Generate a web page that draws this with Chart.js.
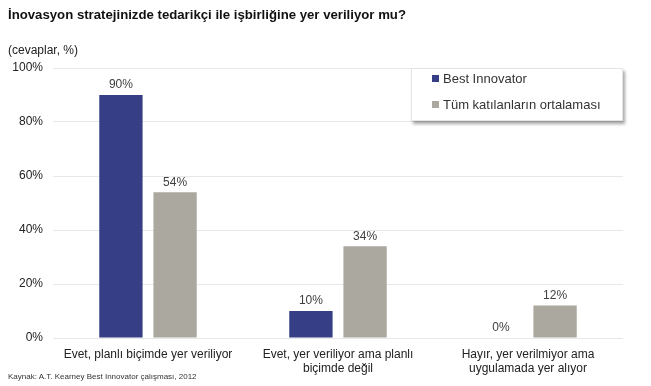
<!DOCTYPE html>
<html>
<head>
<meta charset="utf-8">
<script src="https://cdn.jsdelivr.net/npm/chart.js@4/dist/chart.umd.min.js"></script>
<style>
  body { margin: 0; background: #fff; font-family: "Liberation Sans", Arial, sans-serif; }
  #wrap { position: relative; width: 651px; height: 386px; }
  #chart { position: absolute; left: 0; top: 0; }
  .txt { position: absolute; color: #111; white-space: nowrap; }
  #title { left: 8px; top: 7px; font-size: 13.2px; font-weight: bold; }
  #unit { left: 8px; top: 43px; font-size: 12px; color: #222; }
  #source { left: 8px; top: 372px; font-size: 8px; color: #333; }
  #legend {
    position: absolute; left: 411px; top: 68px; width: 210px; height: 51px;
    background: #fff; border: 1px solid #e4e4e4; box-shadow: 2px 3px 3px rgba(0,0,0,0.35);
    font-size: 13px; color: #333;
  }
  .item { position: absolute; left: 20px; }
  .sw { display: inline-block; width: 7px; height: 7px; margin-right: 4px; vertical-align: 1px; }
</style>
</head>
<body>
<div id="wrap">
  <canvas id="chart" width="651" height="386"></canvas>
  <div class="txt" id="title">İnovasyon stratejinizde tedarikçi ile işbirliğine yer veriliyor mu?</div>
  <div class="txt" id="unit">(cevaplar, %)</div>
  <div class="txt" id="source">Kaynak: A.T. Kearney Best Innovator çalışması, 2012</div>
  <div id="legend">
    <div class="item" style="top:2px"><span class="sw" style="background:#363f86"></span>Best Innovator</div>
    <div class="item" style="top:28px"><span class="sw" style="background:#aba89f"></span>Tüm katılanların ortalaması</div>
  </div>
</div>
<script>
const categories = [
    'Evet, planlı biçimde yer veriliyor',
    ['Evet, yer veriliyor ama planlı', 'biçimde değil'],
    ['Hayır, yer verilmiyor ama', 'uygulamada yer alıyor']
];
const bestInnovator = [90, 10, 0];
const allAverage = [54, 34, 12];
const yTicks = [0, 20, 40, 60, 80, 100];

// draws the % value above each bar
const valueLabels = {
    id: 'valueLabels',
    afterDatasetsDraw(chart) {
        const ctx = chart.ctx;
        ctx.save();
        ctx.font = '12px "Liberation Sans", Arial, sans-serif';
        ctx.fillStyle = '#404040';
        ctx.textAlign = 'center';
        ctx.textBaseline = 'bottom';
        chart.data.datasets.forEach((ds, i) => {
            chart.getDatasetMeta(i).data.forEach((bar, j) => {
                ctx.fillText(ds.data[j] + '%', bar.x, bar.y - 4);
            });
        });
        ctx.restore();
    }
};

new Chart(document.getElementById('chart').getContext('2d'), {
    type: 'bar',
    data: {
        labels: categories,
        datasets: [{
            label: 'Best Innovator',
            data: bestInnovator,
            backgroundColor: '#363f86',
            categoryPercentage: 0.57,
            barPercentage: 0.8
        }, {
            label: 'Tüm katılanların ortalaması',
            data: allAverage,
            backgroundColor: '#aba89f',
            categoryPercentage: 0.57,
            barPercentage: 0.8
        }]
    },
    options: {
        responsive: false,
        animation: false,
        layout: { padding: { left: 0, right: 28, top: 68, bottom: 0 } },
        plugins: { legend: { display: false }, tooltip: { enabled: false } },
        scales: {
            x: {
                grid: { display: false },
                border: { display: false },
                ticks: {
                    color: '#222',
                    padding: 1,
                    maxRotation: 0,
                    font: { family: '"Liberation Sans", Arial, sans-serif', size: 12 }
                },
                afterFit: s => { s.height = 48; }
            },
            y: {
                min: 0,
                max: 100,
                afterBuildTicks: s => { s.ticks = yTicks.map(v => ({ value: v })); },
                grid: { color: '#e8e8e8', drawTicks: false },
                border: { display: false },
                ticks: {
                    color: '#222',
                    padding: 10,
                    callback: v => v + '%',
                    font: { family: '"Liberation Sans", Arial, sans-serif', size: 12 }
                },
                afterFit: s => { s.width = 53; }
            }
        }
    },
    plugins: [valueLabels]
});
</script>
</body>
</html>
